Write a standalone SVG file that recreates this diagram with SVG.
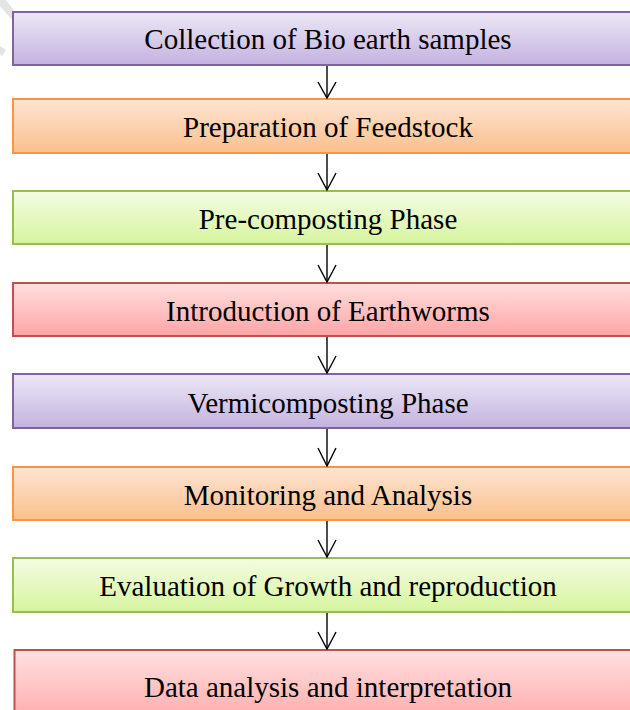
<svg xmlns="http://www.w3.org/2000/svg" width="630" height="710" viewBox="0 0 630 710">
<defs>
<linearGradient id="gP" x1="0" y1="0" x2="0" y2="1"><stop offset="0" stop-color="#ede8f6"/><stop offset="1" stop-color="#c3b2e0"/></linearGradient>
<linearGradient id="gO" x1="0" y1="0" x2="0" y2="1"><stop offset="0" stop-color="#fee5d3"/><stop offset="1" stop-color="#fbbf8c"/></linearGradient>
<linearGradient id="gG" x1="0" y1="0" x2="0" y2="1"><stop offset="0" stop-color="#f4fce4"/><stop offset="1" stop-color="#d6f59d"/></linearGradient>
<linearGradient id="gR" x1="0" y1="0" x2="0" y2="1"><stop offset="0" stop-color="#ffe0e0"/><stop offset="1" stop-color="#ffa4a4"/></linearGradient>
</defs>
<style>
.box{stroke-width:2}
.p{fill:url(#gP);stroke:#8064a2}
.o{fill:url(#gO);stroke:#f79646}
.g{fill:url(#gG);stroke:#9bbb59}
.r{fill:url(#gR);stroke:#c0504d}
.t{font-family:"Liberation Serif","Times New Roman",serif;font-size:29px;fill:#000;text-anchor:middle}
.c line,.c polyline{stroke:#000;stroke-width:1.4;fill:none}
.wm{fill:#e4e4e4}
</style>
<polygon class="wm" points="0,0 6,0 20,18 14,22 0,6"/>
<polygon class="wm" points="0,46 6,50 2,56 0,54"/>
<g id="n1"><rect class="box p" x="13" y="12" width="640" height="53"/><text class="t" x="328" y="49">Collection of Bio earth samples</text></g>
<g id="n2"><rect class="box o" x="13" y="99" width="640" height="54"/><text class="t" x="328" y="137">Preparation of Feedstock</text></g>
<g id="n3"><rect class="box g" x="13" y="191" width="640" height="53"/><text class="t" x="328" y="229">Pre-composting Phase</text></g>
<g id="n4"><rect class="box r" x="13" y="283" width="640" height="53"/><text class="t" x="328" y="321">Introduction of Earthworms</text></g>
<g id="n5"><rect class="box p" x="13" y="374" width="640" height="54"/><text class="t" x="328" y="413">Vermicomposting Phase</text></g>
<g id="n6"><rect class="box o" x="13" y="467" width="640" height="53"/><text class="t" x="328" y="505">Monitoring and Analysis</text></g>
<g id="n7"><rect class="box g" x="13" y="558" width="640" height="54"/><text class="t" x="328" y="596">Evaluation of Growth and reproduction</text></g>
<g id="n8"><rect class="box r" x="14.5" y="650" width="640" height="80"/><text class="t" x="328" y="697">Data analysis and interpretation</text></g>
<g id="connectors" class="c">
<line x1="327" y1="66" x2="327" y2="98"/><polyline points="318,82 327,98 336,82"/>
<line x1="327" y1="154" x2="327" y2="190"/><polyline points="318,173 327,190 336,173"/>
<line x1="327" y1="245" x2="327" y2="282"/><polyline points="318,265 327,282 336,265"/>
<line x1="327" y1="337" x2="327" y2="373"/><polyline points="318,356 327,373 336,356"/>
<line x1="327" y1="429" x2="327" y2="466"/><polyline points="318,448 327,466 336,448"/>
<line x1="327" y1="521" x2="327" y2="557"/><polyline points="318,540 327,557 336,540"/>
<line x1="327" y1="613" x2="327" y2="649"/><polyline points="318,632 327,649 336,632"/>
</g>
</svg>
